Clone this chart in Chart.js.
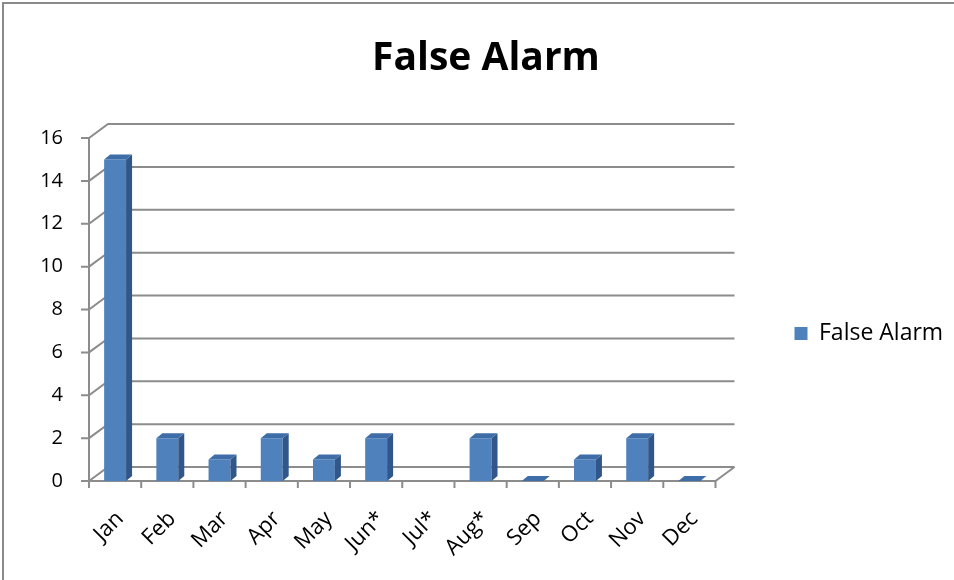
<!DOCTYPE html>
<html>
<head>
<meta charset="utf-8">
<script src="https://cdn.jsdelivr.net/npm/chart.js@4.4.1/dist/chart.umd.min.js"></script>
<style>
  html, body { margin: 0; padding: 0; background: #fff; }
  #wrap { position: relative; width: 954px; height: 580px; }
</style>
</head>
<body>
<div id="wrap"><canvas id="chart" width="954" height="580"></canvas></div>
<script>
const months = ['Jan', 'Feb', 'Mar', 'Apr', 'May', 'Jun*', 'Jul*', 'Aug*', 'Sep', 'Oct', 'Nov', 'Dec'];
const falseAlarms = [15, 2, 1, 2, 1, 2, null, 2, 0, 1, 2, 0];
const yMin = 0;
const yMax = 16;
const yStep = 2;

const FONT = '"Open Sans", "DejaVu Sans", sans-serif';
const GRID = '#8c8c8c';
const FRONT = '#4f81bd';
const SIDE = '#31578a';
const TOP = '#3f6da8';
const DX = 19, DY = 14;       // back wall offset
const BAR_DX = 6, BAR_DY = 5; // bar depth

// legend sits well right of the plot, like the reference
const LEGEND_GAP = 79;
const LEGEND_FONT = 23;
const padRight = 9;
const padLeft = 27;

// back wall, gridlines, floor and axis ticks drawn in a flat 3D style
const wallPlugin = {
    id: 'wall',
    afterLayout(chart) {
        // legend item sits below the canvas middle in the reference
        chart.legend.top += 43.5;
        chart.legend.bottom += 43.5;
    },
    beforeDatasetsDraw(chart) {
        const { ctx, chartArea: a, scales: { x, y } } = chart;
        ctx.save();
        ctx.strokeStyle = GRID;
        ctx.lineWidth = 2;
        y.ticks.forEach(t => {
            const py = y.getPixelForValue(t.value);
            ctx.beginPath();
            ctx.moveTo(a.left - 8, py);
            ctx.lineTo(a.left, py);
            ctx.lineTo(a.left + DX, py - DY);
            ctx.lineTo(a.right + DX, py - DY);
            ctx.stroke();
        });
        ctx.beginPath();
        ctx.moveTo(a.left, y.getPixelForValue(yMax));
        ctx.lineTo(a.left, a.bottom);
        ctx.lineTo(a.right, a.bottom);
        ctx.lineTo(a.right + DX, a.bottom - DY);
        ctx.stroke();
        for (let i = 0; i <= months.length; i++) {
            const px = x.getPixelForValue(i - 0.5);
            ctx.beginPath();
            ctx.moveTo(px, a.bottom);
            ctx.lineTo(px, a.bottom + 7);
            ctx.stroke();
        }
        ctx.restore();
    },
    afterDatasetsDraw(chart) {
        const { ctx } = chart;
        const meta = chart.getDatasetMeta(0);
        ctx.save();
        meta.data.forEach((bar, i) => {
            if (falseAlarms[i] === null) return;
            const { x: cx, y: top, base, width } = bar.getProps(['x', 'y', 'base', 'width'], true);
            const l = cx - width / 2;
            const r = cx + width / 2;
            if (base - top > 0) {
                ctx.fillStyle = SIDE;
                ctx.beginPath();
                ctx.moveTo(r, top);
                ctx.lineTo(r + BAR_DX, top - BAR_DY);
                ctx.lineTo(r + BAR_DX, base - BAR_DY);
                ctx.lineTo(r, base);
                ctx.closePath();
                ctx.fill();
            }
            ctx.fillStyle = TOP;
            ctx.beginPath();
            ctx.moveTo(l, top);
            ctx.lineTo(l + BAR_DX, top - BAR_DY);
            ctx.lineTo(r + BAR_DX, top - BAR_DY);
            ctx.lineTo(r, top);
            ctx.closePath();
            ctx.fill();
        });
        ctx.restore();
    },
    afterDraw(chart) {
        const { ctx } = chart;
        ctx.save();
        ctx.strokeStyle = '#8a8a8a';
        ctx.lineWidth = 2;
        ctx.strokeRect(3, 3, 1000, 1000);
        ctx.restore();
    }
};

new Chart(document.getElementById('chart'), {
    type: 'bar',
    data: {
        labels: months,
        datasets: [{
            label: 'False Alarm',
            data: falseAlarms,
            backgroundColor: FRONT,
            borderWidth: 0,
            barPercentage: 0.42,
            categoryPercentage: 1
        }]
    },
    options: {
        responsive: false,
        animation: false,
        devicePixelRatio: 1,
        events: [],
        layout: { padding: { left: padLeft, top: 0, right: padRight, bottom: 0 } },
        scales: {
            x: {
                offset: true,
                grid: { display: false, drawTicks: false },
                border: { display: false },
                ticks: {
                    minRotation: 45,
                    maxRotation: 45,
                    padding: 25,
                    labelOffset: 5,
                    color: '#000',
                    font: { family: FONT, size: 22 }
                },
                afterFit(scale) { scale.height = 99; }
            },
            y: {
                min: yMin,
                max: yMax,
                grid: { display: false, drawTicks: false },
                border: { display: false },
                ticks: {
                    stepSize: yStep,
                    padding: 26,
                    color: '#000',
                    font: { family: FONT, size: 20 }
                },
                afterFit(scale) { scale.width = 89 - padLeft; }
            }
        },
        plugins: {
            title: {
                display: true,
                text: 'False Alarm',
                color: '#000',
                font: { family: FONT, size: 39, weight: 'bold' },
                padding: { top: 35, bottom: 56.2 }
            },
            legend: {
                position: 'right',
                labels: {
                    boxWidth: 13,
                    boxHeight: 13,
                    padding: LEGEND_GAP,
                    color: '#000',
                    font: { family: FONT, size: LEGEND_FONT }
                }
            },
            tooltip: { enabled: false }
        }
    },
    plugins: [wallPlugin]
});
</script>
</body>
</html>
